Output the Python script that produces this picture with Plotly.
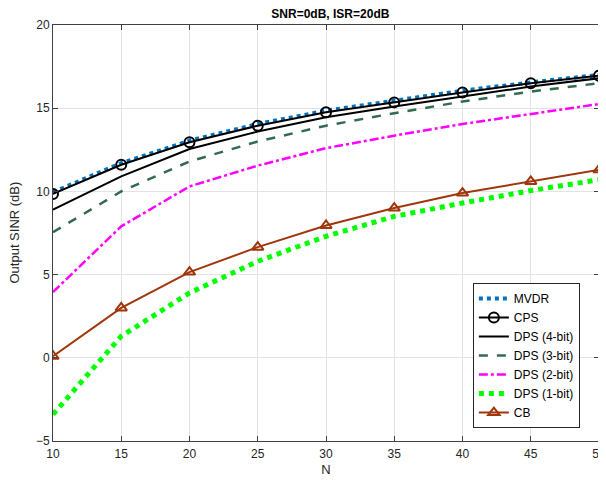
import plotly.graph_objects as go

N = [10, 15, 20, 25, 30, 35, 40, 45, 50]
mvdr = [9.95, 11.7, 13.05, 14.05, 14.85, 15.45, 16.05, 16.55, 17.0]
cps = [9.85, 11.6, 12.95, 13.95, 14.75, 15.35, 15.95, 16.5, 16.95]
dps4 = [8.9, 10.9, 12.55, 13.6, 14.45, 15.1, 15.7, 16.3, 16.8]
dps3 = [7.55, 10.0, 11.8, 13.0, 13.95, 14.7, 15.4, 16.0, 16.5]
dps2 = [3.95, 7.9, 10.3, 11.55, 12.6, 13.35, 14.05, 14.65, 15.25]
dps1 = [-3.4, 1.3, 3.9, 5.8, 7.3, 8.5, 9.3, 10.05, 10.7]
cb = [0.1, 3.0, 5.15, 6.65, 7.95, 9.0, 9.9, 10.6, 11.3]

fig = go.Figure()
fig.add_trace(go.Scatter(x=N, y=mvdr, name="MVDR", mode="lines",
                         line=dict(color="#0072BD", width=4, dash="dot")))
fig.add_trace(go.Scatter(x=N, y=cps, name="CPS", mode="lines+markers",
                         line=dict(color="black", width=2),
                         marker=dict(symbol="circle-open", size=10, color="black", line=dict(width=2))))
fig.add_trace(go.Scatter(x=N, y=dps4, name="DPS (4-bit)", mode="lines",
                         line=dict(color="black", width=2)))
fig.add_trace(go.Scatter(x=N, y=dps3, name="DPS (3-bit)", mode="lines",
                         line=dict(color="#336B4F", width=2.5, dash="dash")))
fig.add_trace(go.Scatter(x=N, y=dps2, name="DPS (2-bit)", mode="lines",
                         line=dict(color="#FF00FF", width=2.5, dash="dashdot")))
fig.add_trace(go.Scatter(x=N, y=dps1, name="DPS (1-bit)", mode="lines",
                         line=dict(color="#00FF00", width=5, dash="dot")))
fig.add_trace(go.Scatter(x=N, y=cb, name="CB", mode="lines+markers",
                         line=dict(color="#A0360B", width=2),
                         marker=dict(symbol="triangle-up-open", size=10, color="#A0360B", line=dict(width=2))))

axis_common = dict(showline=True, linecolor="#404040", linewidth=1, mirror="allticks",
                   ticks="inside", ticklen=5, tickcolor="#404040", automargin=False,
                   showgrid=True, gridcolor="#E3E3E3", gridwidth=1, zeroline=False,
                   tickfont=dict(family="Liberation Sans, Arial", size=12, color="#262626"))

W, H = 598, 469
fig.update_layout(
    width=W, height=H,
    margin=dict(l=45, r=7, t=17, b=36),
    paper_bgcolor="white", plot_bgcolor="white",
    title=dict(text="<b>SNR=0dB, ISR=20dB</b>", x=0.508, xref="paper", xanchor="center",
               y=1 - 6 / H, yanchor="middle",
               font=dict(family="Liberation Sans, Arial", size=12, color="black")),
    xaxis=dict(range=[10, 50], tickvals=[10, 15, 20, 25, 30, 35, 40, 45, 50],
               ticklabelstandoff=2, ticklabeloverflow="allow",
               title=dict(text="N", font=dict(family="Liberation Sans, Arial", size=13, color="#262626"), standoff=8),
               **axis_common),
    yaxis=dict(range=[-5, 20], tickvals=[-5, 0, 5, 10, 15, 20],
               **axis_common),
    annotations=[dict(text="Output SINR (dB)", textangle=-90, xref="paper", yref="paper",
                      x=-0.0723, y=0.5, xanchor="center", yanchor="middle", showarrow=False,
                      font=dict(family="Liberation Sans, Arial", size=13, color="#262626"))],
    legend=dict(x=0.769, y=0.031, xanchor="left", yanchor="bottom",
                bgcolor="white", bordercolor="#262626", borderwidth=1,
                font=dict(family="Liberation Sans, Arial", size=12, color="black"),
                tracegroupgap=0, itemwidth=30),
    showlegend=True,
)

fig.write_html("out.html")
